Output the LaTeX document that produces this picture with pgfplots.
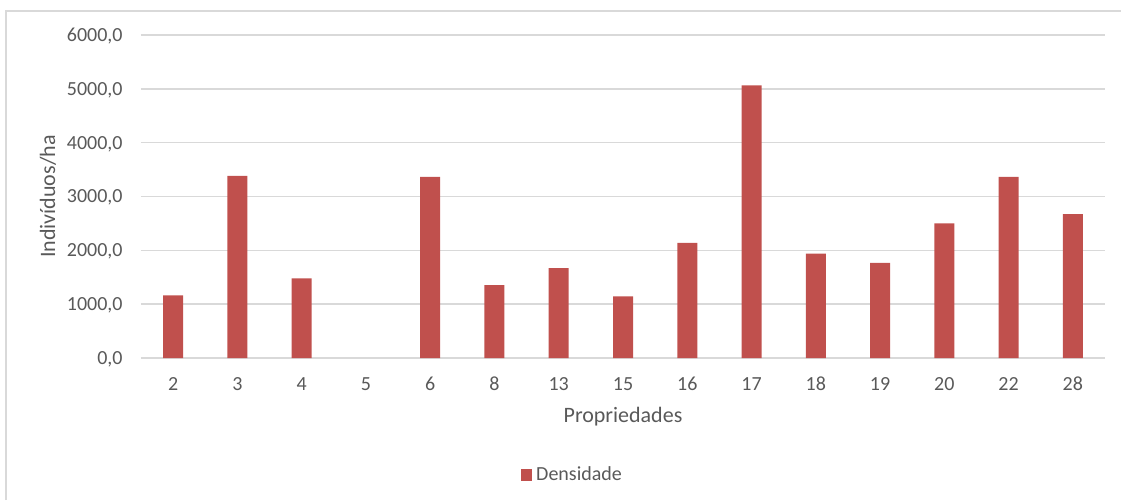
\documentclass[border=0pt]{standalone}
\usepackage{pgfplots}
\pgfplotsset{compat=1.18}
\usepackage{fontspec}
\setmainfont{Carlito}
\definecolor{barred}{HTML}{C0504D}
\definecolor{gridgray}{HTML}{D9D9D9}
\definecolor{txtgray}{HTML}{595959}
\begin{document}
\begin{tikzpicture}
\useasboundingbox (0,0) rectangle (560.5pt,250pt);
\draw[gridgray, line width=1pt] (3pt,0) -- (3pt,244.5pt) -- (560.5pt,244.5pt);
\begin{axis}[
  at={(70.5pt,71pt)}, anchor=south west,
  scale only axis, width=482pt, height=161.5pt,
  ybar, bar width=10pt,
  xmin=-0.5, xmax=14.5, ymin=0, ymax=6000,
  xtick={0,...,14},
  xticklabels={2,3,4,5,6,8,13,15,16,17,18,19,20,22,28},
  ytick={0,1000,...,6000},
  scaled y ticks=false,
  /pgf/number format/assume math mode=true,
  /pgf/number format/fixed,
  /pgf/number format/fixed zerofill,
  /pgf/number format/precision=1,
  /pgf/number format/use comma,
  /pgf/number format/1000 sep={},
  ymajorgrids, grid style={gridgray, line width=0.75pt},
  axis x line*=bottom, axis y line*=left,
  y axis line style={draw=none},
  x axis line style={gridgray, line width=0.75pt},
  major tick length=0pt, tick style={draw=none},
  ticklabel style={font=\fontsize{10}{12}\selectfont, text=txtgray, inner sep=0pt},
  xticklabel style={anchor=base, yshift=-16pt},
  yticklabel style={anchor=base east, xshift=-9pt, yshift=-3.2pt},
  xlabel={Propriedades},
  ylabel={Indivíduos/ha},
  label style={font=\fontsize{11}{13}\selectfont, text=txtgray, inner sep=0pt},
  xlabel style={at={(axis description cs:0.5,0)}, anchor=base, yshift=-32pt},
  ylabel style={at={(axis description cs:-0.0892,0.5)}, anchor=base},
  legend style={draw=none, fill=none, at={(axis description cs:0.394,-0.3622)}, anchor=west, inner sep=0pt, font=\fontsize{10}{12}\selectfont, text=txtgray},
  legend image code/.code={\fill[#1] (0pt,-2.9pt) rectangle (5.5pt,2.9pt);},
]
\addplot[fill=barred, draw=none] coordinates {
(0,1164) (1,3383) (2,1479) (4,3364) (5,1355) (6,1669) (7,1146)
(8,2137) (9,5065) (10,1941) (11,1767) (12,2501) (13,3364) (14,2673)
};
\addlegendentry{Densidade}
\end{axis}
\end{tikzpicture}
\end{document}
